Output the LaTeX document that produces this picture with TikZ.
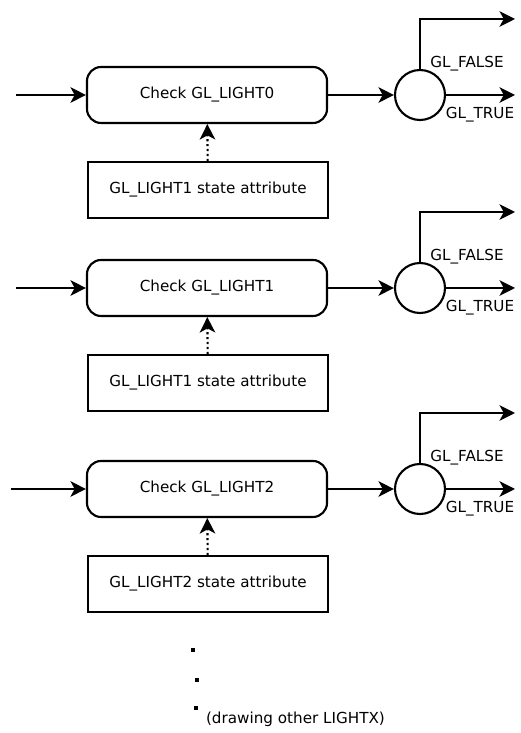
\documentclass[tikz,border=0pt]{standalone}
\usepackage{fontspec}
\setmainfont{DejaVu Sans}
\usetikzlibrary{arrows.meta}

\begin{document}
\begin{tikzpicture}[scale = 1, line width=1.5pt,
  flow/.style={-{Stealth[length=11pt,width=11pt,inset=3pt]}},
  lbl/.style={font=\fontsize{10.8}{13}\selectfont},
  checkbox/.style={draw, rounded corners=10pt, minimum width=6cm, minimum height=1.4cm, lbl},
  statebox/.style={draw, minimum width=6cm, minimum height=1.4cm, lbl},
  testnode/.style={draw, circle, minimum size=1.25cm, inner sep=0pt}]
\useasboundingbox (0,0) rectangle (13.025,18.325);
\foreach \n/\s/\y/\x in {0/1/15.95/0.4, 1/1/11.125/0.4, 2/2/6.1/0.275} {
  \node[checkbox] (check\n) at (5.175,\y) {Check GL\_LIGHT\n};
  \node[statebox] (state\n) at (5.2,\y-2.375) {GL\_LIGHT\s\ state attribute};
  \node[testnode] (test\n) at (10.5,\y) {};
  \coordinate (in\n) at (\x,\y);
  \coordinate (true\n) at (12.875,\y);
  \coordinate (false\n) at (12.875,\y+1.9);
  \draw[flow] (in\n) -- (check\n);
  \draw[flow] (check\n) -- (test\n);
  \draw[flow, dotted] (state\n) -- (check\n);
  \draw[flow] (test\n) -- (true\n);
  \draw[flow] (test\n.north) |- (false\n);
  \node[lbl] at (11.675,\y+0.78) {GL\_FALSE};
  \node[lbl] at (12.0,\y-0.5) {GL\_TRUE};
}
% more lights
\fill (4.775,2.025) rectangle +(0.1,0.1);
\fill (4.875,1.275) rectangle +(0.1,0.1);
\fill (4.85,0.575) rectangle +(0.1,0.1);
\node[lbl, anchor=west, inner sep=0pt] at (5.125,0.33) {(drawing other LIGHTX)};
\end{tikzpicture}
\end{document}
